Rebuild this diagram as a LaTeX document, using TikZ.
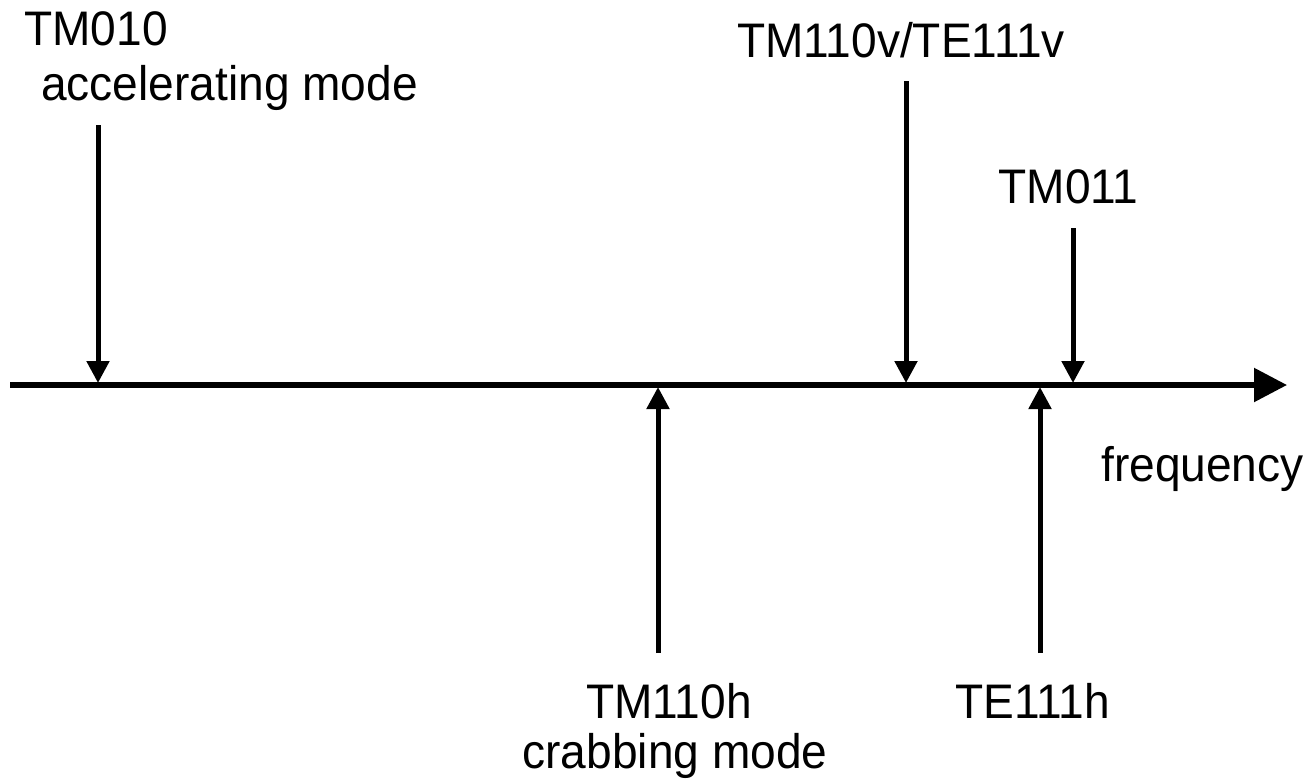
\documentclass[tikz,border=0pt]{standalone}
\usepackage{fontspec}
\setmainfont{Liberation Sans}[FakeStretch=0.95]
\usetikzlibrary{arrows.meta}
\begin{document}
\begin{tikzpicture}[x=1pt,y=-1pt,
  lbl/.style={anchor=base,inner sep=0pt,font=\fontsize{48.5}{58}\selectfont},
  mode/.style={line width=5pt,-{Triangle[width=22pt,length=22pt]}},
  axisline/.style={line width=5.5pt,-{Triangle[width=33pt,length=33pt]}}]
\useasboundingbox (0,0) rectangle (1312,782);
% axis
\coordinate (axs) at (10,385);
\coordinate (axe) at (1287,385);
\draw[axisline] (axs) -- (axe);
% axis points
\coordinate (p010) at (98,383);
\coordinate (p110v) at (906,383);
\coordinate (p011) at (1073,383);
\coordinate (p110h) at (658,387);
\coordinate (p111h) at (1040,387);
% arrow ends
\coordinate (s010) at (98,125);
\coordinate (s110v) at (906,81);
\coordinate (s011) at (1073,228);
\coordinate (s110h) at (658,653);
\coordinate (s111h) at (1040,653);
\draw[mode] (s010) -- (p010);
\draw[mode] (s110v) -- (p110v);
\draw[mode] (s011) -- (p011);
\draw[mode] (s110h) -- (p110h);
\draw[mode] (s111h) -- (p111h);
% labels
\node[lbl] (l010) at (96,45) {TM010};
\node[lbl] (l010b) at (229.5,100) {accelerating mode};
\node[lbl] (l110v) at (901,57) {TM110v/TE111v};
\node[lbl] (l011) at (1068.5,203) {TM011};
\node[lbl] (lfreq) at (1202.5,481) {frequency};
\node[lbl] (l110h) at (669,718) {TM110h};
\node[lbl] (l110hb) at (675,768) {crabbing mode};
\node[lbl] (l111h) at (1032.5,718) {TE111h};
\end{tikzpicture}
\end{document}
